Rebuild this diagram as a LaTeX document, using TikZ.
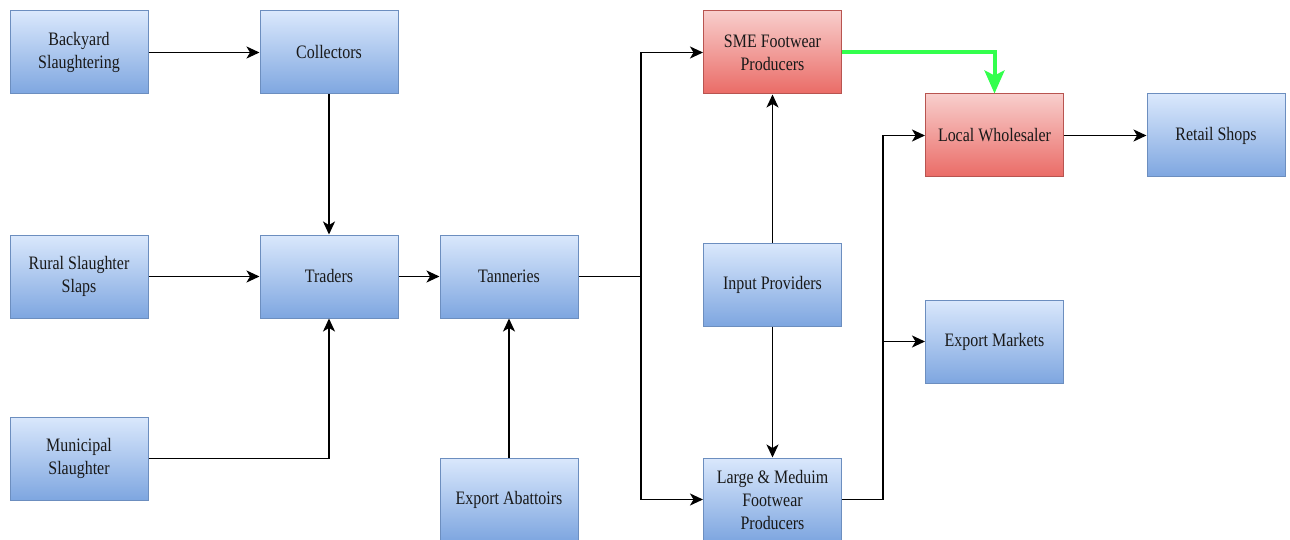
\documentclass[tikz,border=0pt]{standalone}
\usepackage{fontspec}
\setmainfont{Liberation Serif}[FakeStretch=0.84]
\usetikzlibrary{arrows.meta}
\definecolor{bluetop}{HTML}{DAE8FC}
\definecolor{bluebot}{HTML}{7EA6E0}
\definecolor{blueline}{HTML}{6C8EBF}
\definecolor{redtop}{HTML}{F8CECC}
\definecolor{redbot}{HTML}{EA6B66}
\definecolor{redline}{HTML}{B85450}
\definecolor{flowgreen}{HTML}{33FF4D}
\tikzset{
  box/.style={rectangle, minimum width=138pt, minimum height=83pt, inner sep=2pt,
    align=center, font=\fontsize{19}{23}\selectfont, text=black!90,
    line width=1pt},
  bluebox/.style={box, draw=blueline, top color=bluetop, bottom color=bluebot},
  redbox/.style={box, draw=redline, top color=redtop, bottom color=redbot},
  flow/.style={line width=1.6pt, -{Stealth[length=13pt,width=12pt,inset=3.5pt]}},
  plain/.style={line width=1.6pt},
  greenflow/.style={line width=4pt, draw=flowgreen,
    -{Stealth[length=23pt,width=20pt,inset=5pt]}}
}
\begin{document}
\begin{tikzpicture}[x=1pt,y=-1pt]
\useasboundingbox (0,0) rectangle (1290,540);

% boxes
\node[bluebox] (back)   at (79,52.5)    {Backyard\\Slaughtering};
\node[bluebox] (coll)   at (329,52.5)   {Collectors};
\node[bluebox] (rural)  at (79,276.5)   {Rural Slaughter\\Slaps};
\node[bluebox] (trad)   at (329,276.5)  {Traders};
\node[bluebox] (muni)   at (79,458.5)   {Municipal\\Slaughter};
\node[bluebox] (tann)   at (509,276.5)  {Tanneries};
\node[bluebox] (abat)   at (509,499.5)  {Export Abattoirs};
\node[redbox]  (sme)    at (772.5,52.5) {SME Footwear\\Producers};
\node[bluebox] (input)  at (772.5,284.5){Input Providers};
\node[bluebox] (large)  at (772.5,499.5){Large \& Meduim\\Footwear\\Producers};
\node[redbox]  (whole)  at (994.5,135.5){Local Wholesaler};
\node[bluebox] (retail) at (1216,135.5) {Retail Shops};
\node[bluebox] (expm)   at (994.5,341.5){Export Markets};

% sources to traders
\draw[flow] (back) -- (coll);
\draw[flow] (coll) -- (trad);
\draw[flow] (rural) -- (trad);
\draw[flow] (muni.east) -| (trad.south);
\draw[flow] (trad) -- (tann);
\draw[flow] (abat) -- (tann);

% tanneries split to producers
\coordinate (tsplit) at (641,276.5);
\draw[plain] (tann.east) -- (tsplit);
\draw[flow] (tsplit) |- (sme.west);
\draw[flow] (tsplit) |- (large.west);

% input providers
\draw[flow] (input) -- (sme);
\draw[flow] (input) -- (large);

% large producers to markets
\coordinate (lsplit) at (883,499.5);
\draw[plain] (large.east) -- (lsplit);
\draw[flow] (lsplit) |- (whole.west);
\draw[flow] (lsplit |- expm.west) -- (expm.west);

% SME producers to wholesaler
\draw[greenflow] (sme.east) -| (whole.north);

\draw[flow] (whole) -- (retail);
\end{tikzpicture}
\end{document}
